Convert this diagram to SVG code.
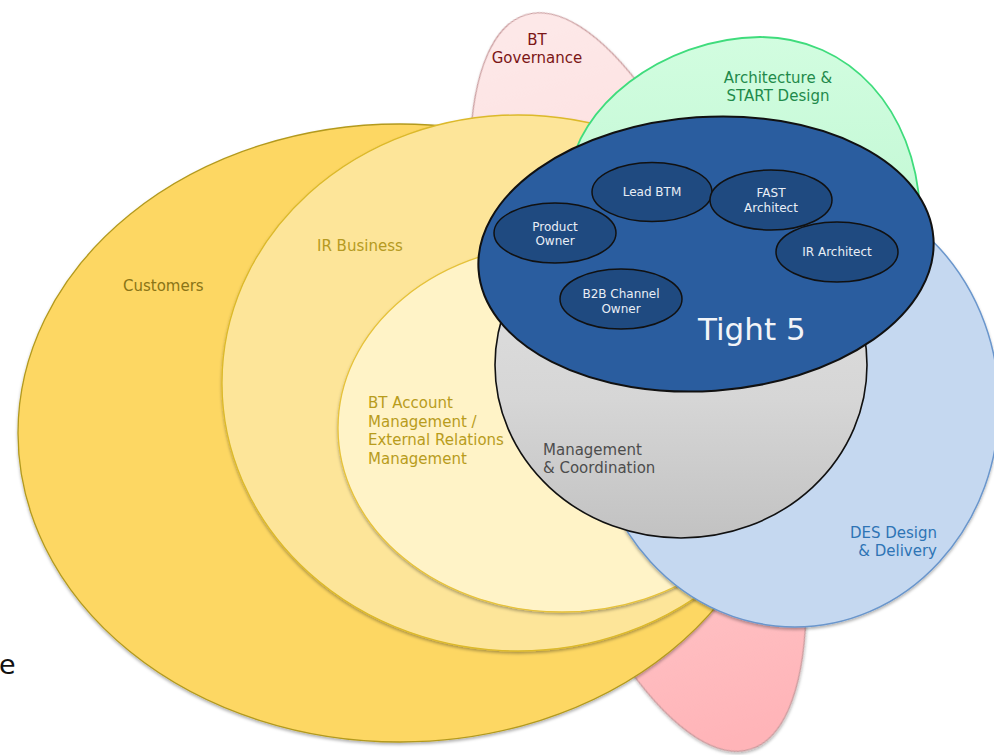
<svg xmlns="http://www.w3.org/2000/svg" width="994" height="755" viewBox="0 0 994 755">
  <defs>
    <linearGradient id="gPink" gradientUnits="userSpaceOnUse" x1="0" y1="12" x2="0" y2="755">
      <stop offset="0" stop-color="#fde8e8"/>
      <stop offset="0.25" stop-color="#fde0e0"/>
      <stop offset="1" stop-color="#ffb4b8"/>
    </linearGradient>
    <linearGradient id="gGreen" x1="0" y1="0" x2="0" y2="1">
      <stop offset="0" stop-color="#d2fde0"/>
      <stop offset="1" stop-color="#bff7d2"/>
    </linearGradient>
    <linearGradient id="gGray" x1="0" y1="0" x2="0" y2="1">
      <stop offset="0" stop-color="#e4e4e4"/>
      <stop offset="0.6" stop-color="#d6d6d6"/>
      <stop offset="1" stop-color="#c2c2c2"/>
    </linearGradient>
    <filter id="shadow" x="-10%" y="-10%" width="120%" height="125%">
      <feDropShadow dx="0" dy="2" stdDeviation="1.6" flood-color="#000" flood-opacity="0.3"/>
    </filter>
    <style>
      text { font-family: "DejaVu Sans", Verdana, sans-serif; }
      .lbl { font-size: 15px; }
      .small { font-size: 12px; fill: #e9eef6; text-anchor: middle; }
      .member { fill: #1f4a80; stroke: #111; stroke-width: 1.5; }
    </style>
  </defs>

  <!-- governance petal behind everything -->
  <g id="bt-governance">
    <ellipse cx="638" cy="382" rx="131" ry="384" transform="rotate(-17 638 382)" fill="url(#gPink)" stroke="#c99a9c" stroke-width="1.2" filter="url(#shadow)"/>
    <text class="lbl" x="537" y="45" text-anchor="middle" fill="#7b1616">BT</text>
    <text class="lbl" x="537" y="63" text-anchor="middle" fill="#7b1616">Governance</text>
  </g>

  <g id="customers">
    <ellipse cx="400" cy="433" rx="382" ry="309" fill="#fdd764" stroke="#b39a1e" stroke-width="1.3" filter="url(#shadow)"/>
    <text class="lbl" x="123" y="291" fill="#8a7416">Customers</text>
  </g>

  <g id="ir-business">
    <ellipse cx="518" cy="383" rx="296" ry="268" fill="#fde599" stroke="#dcb92a" stroke-width="1.3" filter="url(#shadow)"/>
    <text class="lbl" x="317" y="251" fill="#b59a22">IR Business</text>
  </g>

  <g id="bt-account">
    <ellipse cx="562" cy="428" rx="224" ry="184" fill="#fff3c7" stroke="#e6c23a" stroke-width="1.3" filter="url(#shadow)"/>
    <g class="lbl" fill="#b89c1c">
      <text x="368" y="408">BT Account</text>
      <text x="368" y="427">Management /</text>
      <text x="368" y="445">External Relations</text>
      <text x="368" y="464">Management</text>
    </g>
  </g>

  <g id="architecture">
    <path d="M570,175 C575,110 660,38 760,37 C850,37 915,110 920,210 C925,285 565,285 570,175 Z" fill="url(#gGreen)" stroke="#3fdc7c" stroke-width="1.8"/>
    <text class="lbl" x="778" y="83" text-anchor="middle" fill="#1f8a4b">Architecture &amp;</text>
    <text class="lbl" x="778" y="101" text-anchor="middle" fill="#1f8a4b">START Design</text>
  </g>

  <g id="des-design">
    <ellipse cx="795" cy="405" rx="204" ry="222" fill="#c5d8f0" stroke="#6a96cc" stroke-width="1.5" filter="url(#shadow)"/>
    <text class="lbl" x="937" y="538" text-anchor="end" fill="#2e74b5">DES Design</text>
    <text class="lbl" x="937" y="556" text-anchor="end" fill="#2e74b5">&amp; Delivery</text>
  </g>

  <g id="management">
    <ellipse cx="681" cy="365" rx="186" ry="173" fill="url(#gGray)" stroke="#111" stroke-width="1.6"/>
    <text class="lbl" x="543" y="455" fill="#4d4d4d">Management</text>
    <text class="lbl" x="543" y="473" fill="#4d4d4d">&amp; Coordination</text>
  </g>

  <g id="tight-5">
    <ellipse cx="706" cy="254" rx="228" ry="137" transform="rotate(-4 706 254)" fill="#2a5d9f" stroke="#111" stroke-width="2"/>
    <text x="698" y="340" font-size="31" fill="#f2f4f8">Tight 5</text>
  </g>

  <g id="lead-btm">
    <ellipse class="member" cx="652" cy="192" rx="60" ry="29.5"/>
    <text class="small" x="652" y="196">Lead BTM</text>
  </g>

  <g id="fast-architect">
    <ellipse class="member" cx="771" cy="200" rx="61" ry="30"/>
    <text class="small" x="771" y="197">FAST</text>
    <text class="small" x="771" y="212">Architect</text>
  </g>

  <g id="product-owner">
    <ellipse class="member" cx="555" cy="233" rx="61" ry="30"/>
    <text class="small" x="555" y="231">Product</text>
    <text class="small" x="555" y="245">Owner</text>
  </g>

  <g id="ir-architect">
    <ellipse class="member" cx="837" cy="252" rx="61" ry="30"/>
    <text class="small" x="837" y="256">IR Architect</text>
  </g>

  <g id="b2b-channel-owner">
    <ellipse class="member" cx="621" cy="299" rx="61" ry="30"/>
    <text class="small" x="621" y="298">B2B Channel</text>
    <text class="small" x="621" y="313">Owner</text>
  </g>

  <g id="connectors"/>

  <text x="-1" y="674" font-size="27" fill="#111" font-family="'Open Sans', 'DejaVu Sans', sans-serif">e</text>
</svg>
